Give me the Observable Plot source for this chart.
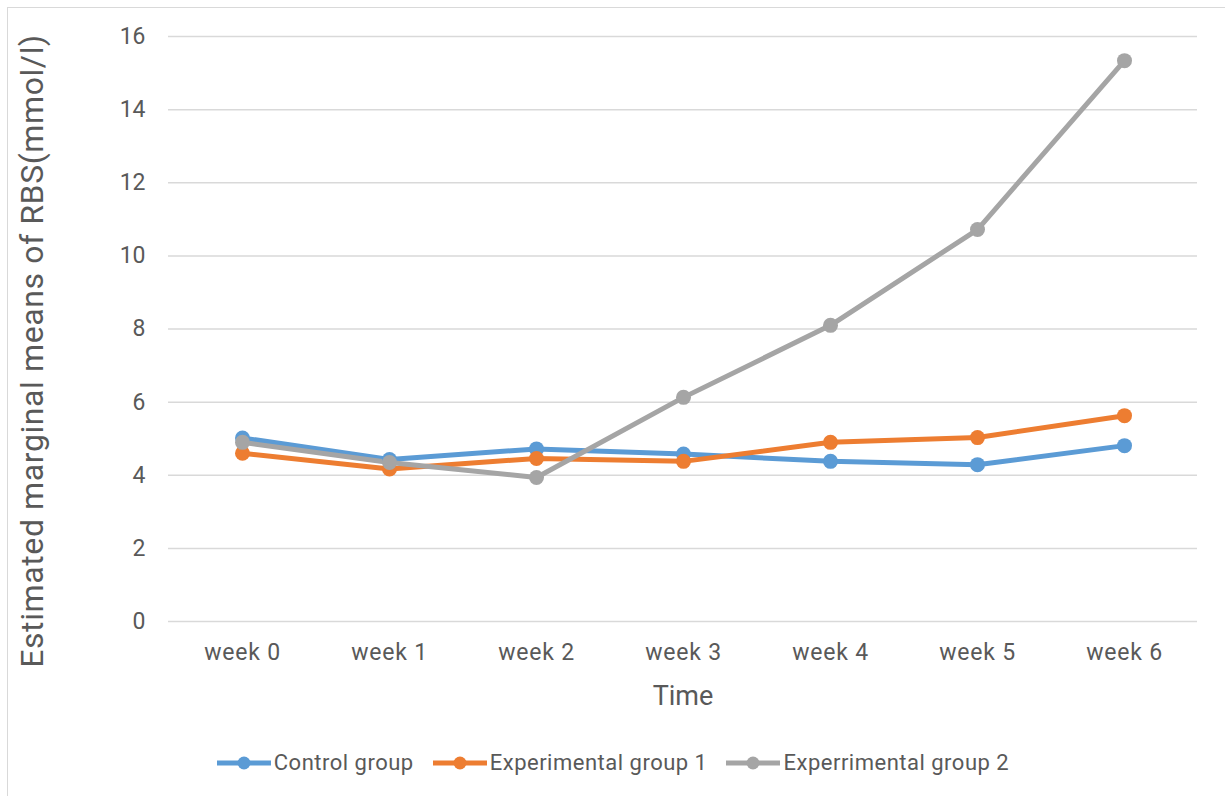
<!DOCTYPE html>
<html>
<head>
<meta charset="utf-8">
<script src="https://cdn.jsdelivr.net/npm/d3@7"></script>
<script src="https://cdn.jsdelivr.net/npm/@observablehq/plot@0.6"></script>
<style>
  html, body { margin: 0; padding: 0; background: #fff; }
  #frame {
    position: absolute; left: 7px; top: 7px; width: 1218px; height: 800px;
    border-left: 1.5px solid #d9d9d9; border-top: 1.5px solid #d9d9d9;
    box-sizing: border-box;
  }
  #chart { position: absolute; left: 0; top: 0; }
  #chart svg g[aria-label="x-axis tick label"] text { letter-spacing: 0.8px; }
  #chart svg .ylab text { letter-spacing: 0.6px; }
  #legend {
    position: absolute; left: 0; top: 750px; width: 1225px;
    display: flex; justify-content: center; gap: 18px;
    font-family: Roboto, sans-serif; font-size: 22px; color: #595959; letter-spacing: 0.5px;
  }
  .item { display: flex; align-items: center; }
  .item svg { margin-right: 2px; }
</style>
</head>
<body>
<div id="frame"></div>
<div id="chart"></div>
<div id="legend"></div>
<script>
const weeks = ["week 0", "week 1", "week 2", "week 3", "week 4", "week 5", "week 6"];
const seriesNames = ["Control group", "Experimental group 1", "Experrimental group 2"];
const controlValues = [5.02, 4.43, 4.72, 4.58, 4.38, 4.29, 4.81];
const exp1Values = [4.60, 4.17, 4.46, 4.38, 4.90, 5.03, 5.63];
const exp2Values = [4.90, 4.35, 3.94, 6.13, 8.10, 10.72, 15.34];
const yTicks = [0, 2, 4, 6, 8, 10, 12, 14, 16];
const colors = ["#5B9BD5", "#ED7D31", "#A5A5A5"];

const allValues = [controlValues, exp1Values, exp2Values];
const data = [];
seriesNames.forEach((s, i) => weeks.forEach((w, j) => data.push({series: s, week: w, value: allValues[i][j]})));

const chart = Plot.plot({
  width: 1225,
  height: 720,
  marginLeft: 168,
  marginRight: 28,
  marginTop: 36,
  marginBottom: 99,
  style: {fontFamily: "Roboto, sans-serif", background: "transparent", overflow: "visible"},
  x: {type: "point", domain: weeks, padding: 0.5, label: null},
  y: {domain: [0, 16], label: null},
  color: {domain: seriesNames, range: colors},
  marks: [
    Plot.gridY(yTicks, {stroke: "#d9d9d9", strokeOpacity: 1, strokeWidth: 1.5}),
    Plot.axisY({ticks: yTicks, tickSize: 0, tickPadding: 23, fontSize: 23, fill: "#595959", label: null}),
    Plot.axisX({tickSize: 0, tickPadding: 22, fontSize: 23, fill: "#595959", label: null}),
    Plot.text(["Estimated marginal means of RBS(mmol/l)"], {frameAnchor: "left", textAnchor: "middle", dx: -136, dy: 22, rotate: -90, fontSize: 32, fill: "#595959", className: "ylab"}),
    Plot.text(["Time"], {frameAnchor: "bottom", dy: 83, fontSize: 27, fill: "#595959"}),
    Plot.line(data, {x: "week", y: "value", z: "series", stroke: "series", strokeWidth: 5}),
    Plot.dot(data, {x: "week", y: "value", fill: "series", r: 7.5})
  ]
});
document.getElementById("chart").appendChild(chart);

const legend = document.getElementById("legend");
seriesNames.forEach((s, i) => {
  const item = document.createElement("div");
  item.className = "item";
  item.innerHTML = `<svg width="56" height="20"><line x1="1" x2="55" y1="10" y2="10" stroke="${colors[i]}" stroke-width="5"/><circle cx="28" cy="10" r="6.5" fill="${colors[i]}"/></svg><span>${s}</span>`;
  legend.appendChild(item);
});
</script>
</body>
</html>
